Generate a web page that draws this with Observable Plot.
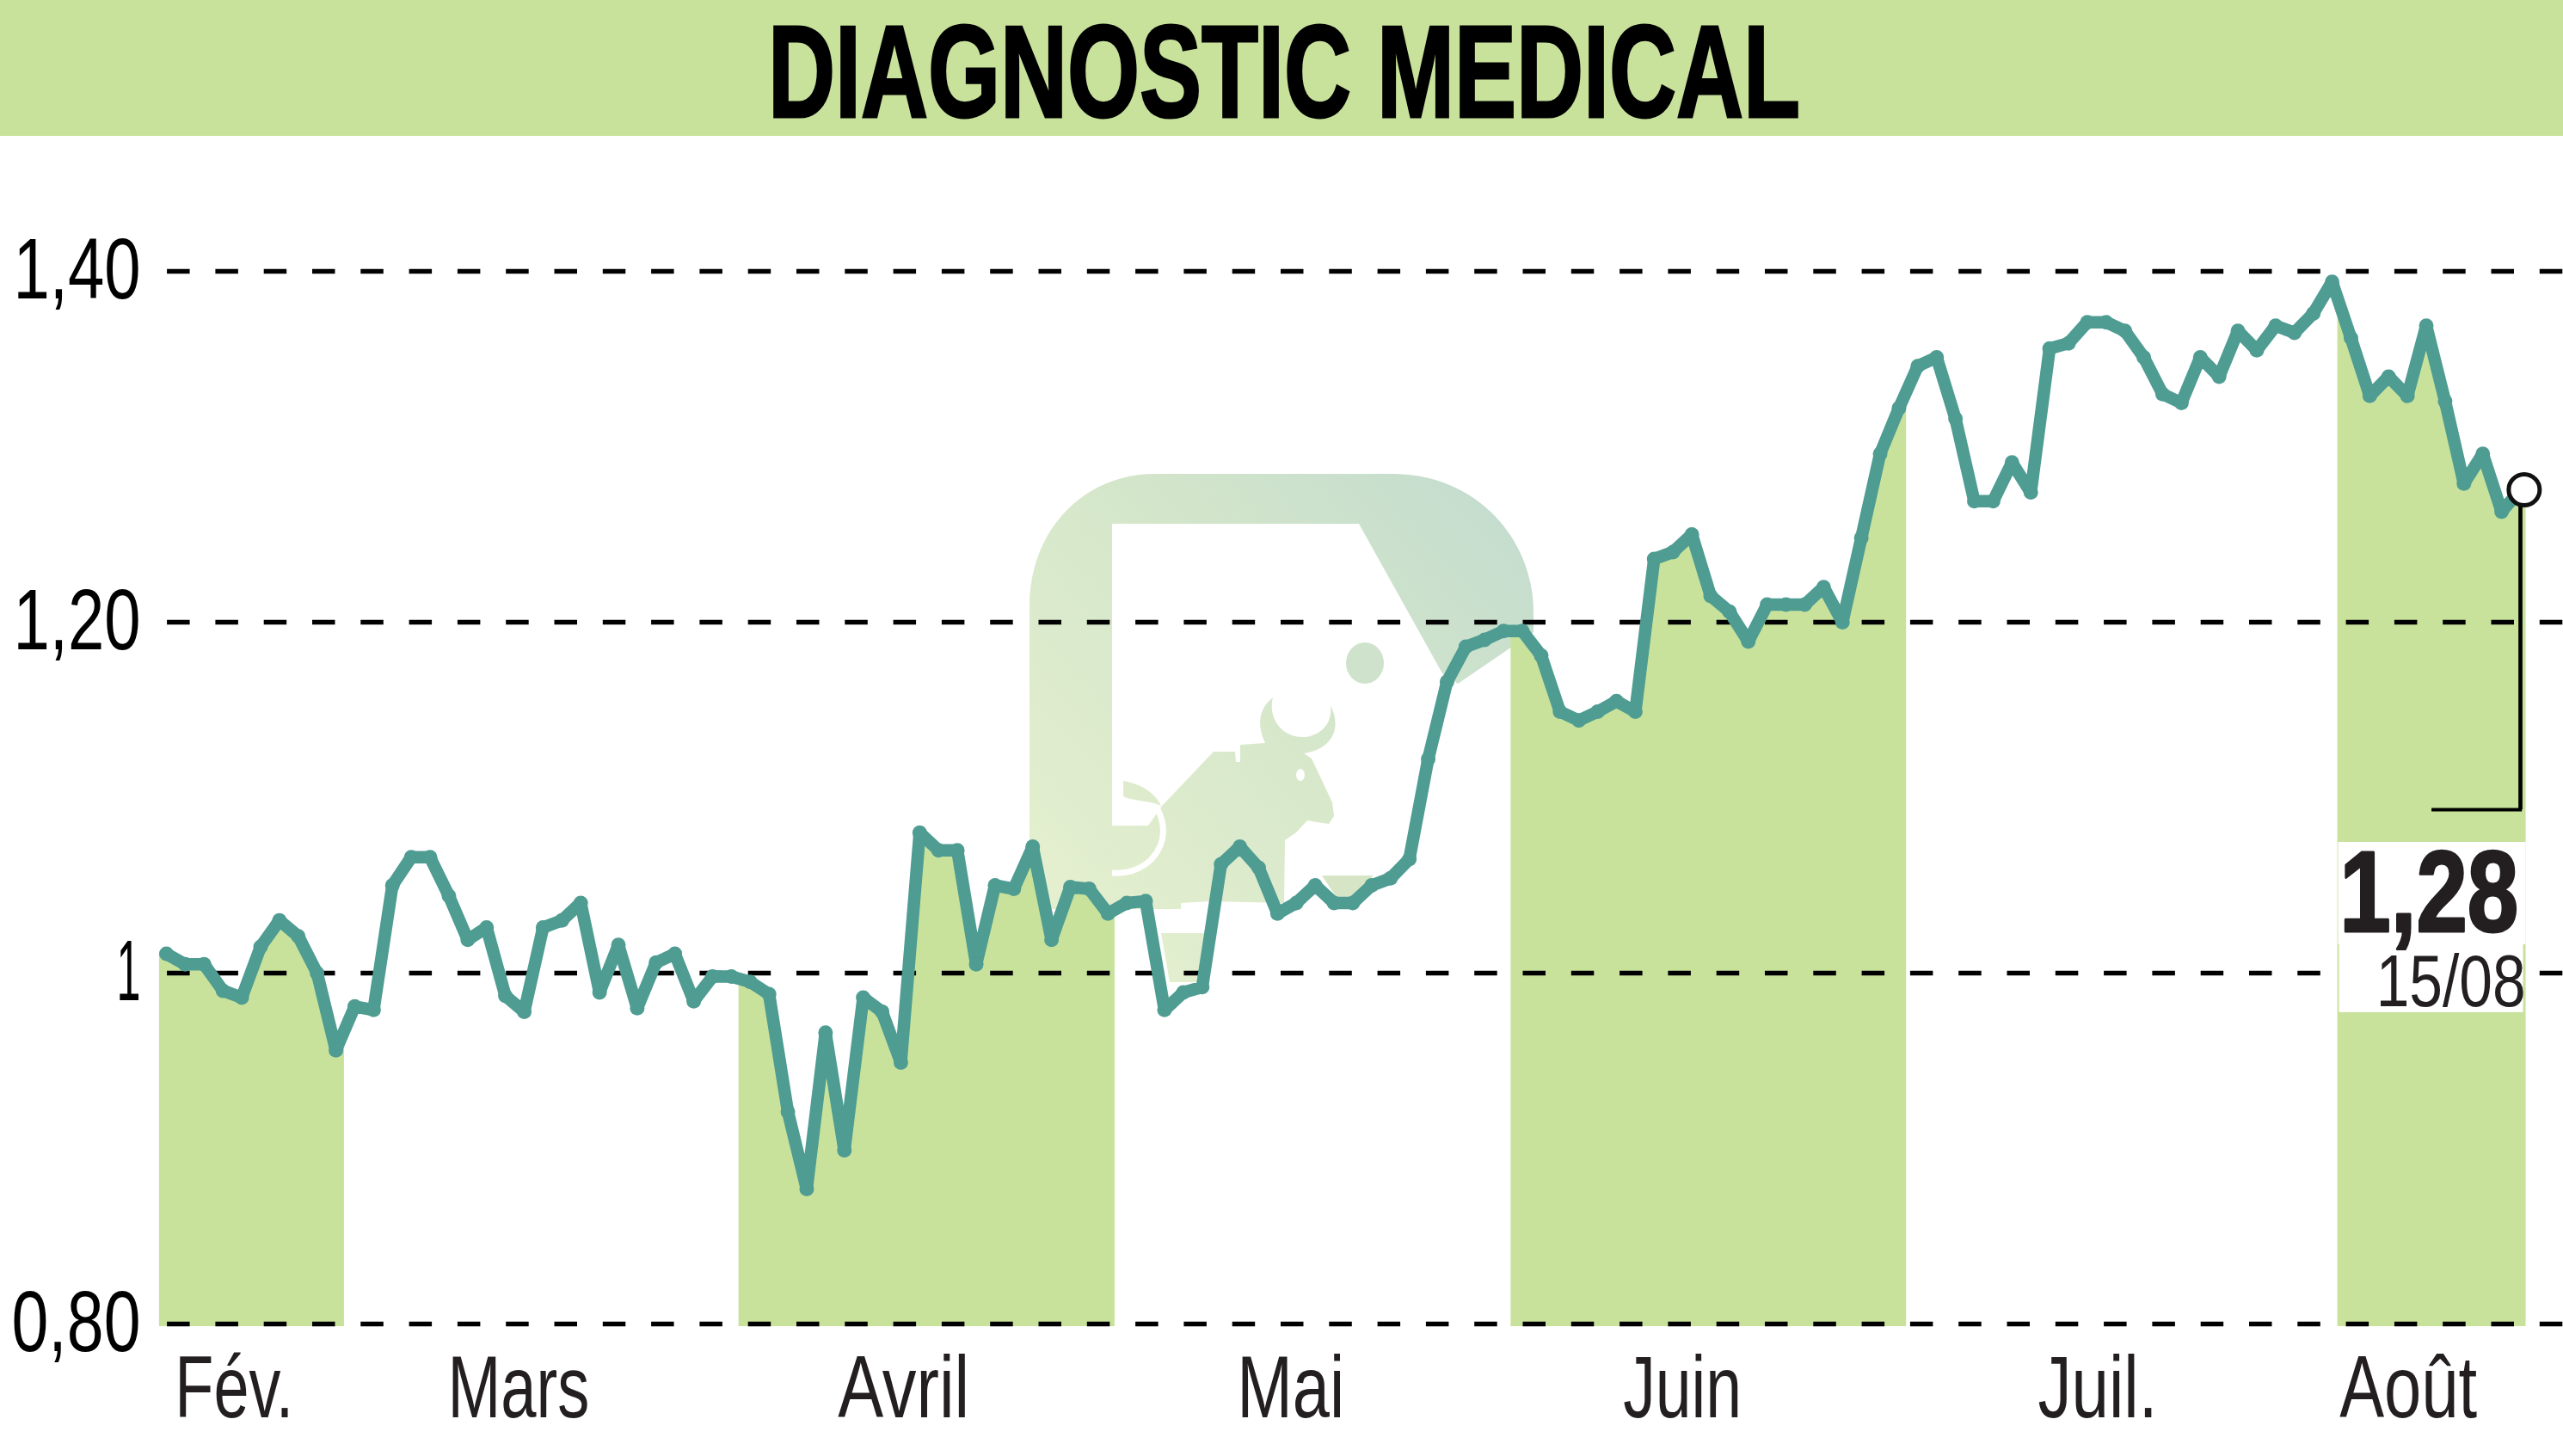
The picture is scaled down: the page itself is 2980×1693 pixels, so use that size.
<!DOCTYPE html>
<html lang="fr">
<head>
<meta charset="utf-8">
<script src="https://cdn.jsdelivr.net/npm/d3@7"></script>
<script src="https://cdn.jsdelivr.net/npm/@observablehq/plot@0.6"></script>
<style>
  html, body { margin: 0; padding: 0; background: #fff; width: 2980px; height: 1693px; overflow: hidden; }
  #head { height: 158px; width: 2980px; background: #c8e29c; }
  #head text { font: 700 152px "Liberation Sans Narrow", "Liberation Sans", sans-serif; fill: #000; stroke: #000; stroke-width: 3px; }
  svg { display: block; }
</style>
</head>
<body>
<div id="head"><svg width="2980" height="158" role="img"><text id="title" x="893" y="136" textLength="1200" lengthAdjust="spacingAndGlyphs"></text></svg></div>
<div id="chart"></div>
<script>
const titleText = "DIAGNOSTIC MEDICAL";
document.getElementById("title").textContent = titleText;
const values = [
  1.011,1.005,1.005,0.990,0.986,1.015,1.030,1.021,1.000,0.956,
  0.981,0.979,1.050,1.066,1.066,1.044,1.019,1.026,0.987,0.978,
  1.026,1.030,1.040,0.989,1.016,0.980,1.006,1.011,0.984,0.998,
  0.998,0.995,0.988,0.921,0.877,0.966,0.899,0.986,0.978,0.949,
  1.080,1.070,1.070,1.005,1.050,1.048,1.072,1.019,1.049,1.048,
  1.034,1.040,1.041,0.979,0.989,0.992,1.062,1.072,1.060,1.034,
  1.040,1.050,1.040,1.040,1.050,1.054,1.065,1.122,1.166,1.186,
  1.190,1.195,1.195,1.181,1.149,1.144,1.149,1.155,1.149,1.236,
  1.240,1.250,1.215,1.206,1.189,1.210,1.210,1.210,1.220,1.200,
  1.248,1.296,1.322,1.346,1.351,1.316,1.269,1.269,1.291,1.274,
  1.356,1.359,1.371,1.371,1.366,1.351,1.330,1.325,1.351,1.340,
  1.366,1.355,1.369,1.365,1.376,1.394,1.362,1.329,1.340,1.329,
  1.369,1.326,1.279,1.296,1.263,1.2755
];
const yTicks = [0.8, 1, 1.2, 1.4];
const yLabels = ["0,80", "1", "1,20", "1,40"];
const monthLabels = ["Fév.", "Mars", "Avril", "Mai", "Juin", "Juil.", "Août"];
const monthTicks = [3.6, 18.7, 39.15, 59.7, 80.5, 102.55, 119.05];
const bandStarts = [-0.37, 30.4, 71.4, 115.3];
const bandEnds = [9.45, 50.37, 92.4, 125.3];
const lastLabel = "1,28";
const lastDate = "15/08";

const series = values.map((v, i) => ({ i, v }));
const at = (t) => {
  const a = Math.max(0, Math.min(values.length - 1, Math.floor(t)));
  const b = Math.min(values.length - 1, a + 1);
  const f = Math.max(0, Math.min(1, t - a));
  return values[a] + (values[b] - values[a]) * f;
};
const bandPoints = bandStarts.flatMap((s, b) => {
  const e = bandEnds[b];
  return [{ b, i: s, v: at(s) }, ...series.filter((d) => d.i > s && d.i < e).map((d) => ({ b, i: d.i, v: d.v })), { b, i: e, v: at(e) }];
});

const font = '"Liberation Sans Narrow", "Liberation Sans", sans-serif';
const wide = '"Liberation Sans", sans-serif';

// background logo (decorative, in page pixels)
function watermark() {
  const ns = "http://www.w3.org/2000/svg";
  const g = document.createElementNS(ns, "g");
  g.setAttribute("transform", "translate(0,-158)");
  g.innerHTML = `
  <defs><linearGradient id="wm" gradientUnits="userSpaceOnUse" x1="1220" y1="1080" x2="1770" y2="570">
    <stop offset="0" stop-color="#e5f0cf"/><stop offset="0.55" stop-color="#d4e6ca"/><stop offset="1" stop-color="#c3dccf"/>
  </linearGradient></defs>
  <path fill="url(#wm)" d="M1197,1057 L1197,705 C1197,615 1262,551 1342,551 L1620,551 C1712,551 1783,622 1783,712 L1783,735 L1695,795 L1677,783 L1580,609 L1293,609 L1293,960 L1335,960 L1351,937 L1411,874 L1436,874 L1437,886 L1442,886 L1442,866 L1471,864 C1462,845 1462,825 1480,811 C1474,835 1490,857 1514,857 C1536,857 1550,840 1547,820 C1562,850 1545,872 1516,876 L1525,882 L1549,933 L1551,949 L1545,958 L1520,954 L1507,968 L1494,977 L1493,1050 L1407,1048 L1373,1050 L1373,1057 Z"/>
  <path fill="url(#wm)" d="M1306,908 C1330,912 1345,925 1350,937 C1335,930 1318,932 1306,926 Z"/>
  <path fill="url(#wm)" d="M1350,1085 L1410,1085 L1400,1142 L1360,1142 Z"/>
  <path fill="#d6e5c6" d="M1537,1018 L1597,1018 L1570,1045 L1555,1045 Z"/>
  <ellipse fill="#cfe3cc" cx="1587" cy="771" rx="22" ry="24"/>
  <ellipse fill="#fff" cx="1512" cy="901" rx="5" ry="7"/>
  <path fill="none" stroke="#fff" stroke-width="7" d="M1346,941 C1358,965 1352,985 1338,1000 C1325,1012 1308,1016 1293,1015"/>`;
  return g;
}

const chart = Plot.plot({
  width: 2980, height: 1535,
  marginLeft: 193, marginRight: 50, marginTop: 157, marginBottom: 154,
  style: { background: "transparent", fontFamily: font, color: "#231f20", overflow: "visible" },
  x: { domain: [0, 125], axis: null },
  y: { domain: [0.8, 1.4], axis: null },
  marks: [
    watermark,
    Plot.areaY(bandPoints, { x: "i", y1: 0.7985, y2: "v", z: "b", fill: "#c8e29c", curve: "linear" }),
    Plot.ruleY(yTicks, { x1: 0.05, x2: 127.3, stroke: "#000", strokeWidth: 5.3, strokeDasharray: "26.5,29.8" }),
    Plot.line(series, { x: "i", y: "v", stroke: "#4e9c92", strokeWidth: 14.5, strokeLinejoin: "round", curve: "linear" }),
    Plot.dot(series.slice(0, -1), { x: "i", y: "v", r: 8.5, fill: "#4e9c92" }),
    Plot.rect([0], { x1: 115.34, x2: 125.3, y1: 1.0745, y2: 1.0162, fill: "#fff" }),
    Plot.rect([0], { x1: 115.39, x2: 125.16, y1: 1.0162, y2: 0.9775, fill: "#fff" }),
    Plot.ruleX([125.0], { y1: 1.2755, y2: 1.0931, stroke: "#000", strokeWidth: 4.7 }),
    Plot.ruleY([1.0931], { x1: 120.3, x2: 125.1, stroke: "#000", strokeWidth: 4 }),
    Plot.dot(series.slice(-1), { x: () => 125.2, y: "v", r: 18, fill: "#fff", stroke: "#111", strokeWidth: 5 }),
    Plot.axisY({ anchor: "left", ticks: yTicks, tickSize: 0, tickPadding: 30, dy: -1, tickFormat: (d) => yLabels[yTicks.indexOf(d)], fontSize: 100, fill: "#000", label: null }),
    Plot.axisX({ anchor: "bottom", ticks: monthTicks, tickSize: 0, tickPadding: 36, tickFormat: (d) => monthLabels[monthTicks.indexOf(d)], fontSize: 102, fill: "#231f20", label: null }),
    Plot.text([lastLabel], { x: 124.9, y: 1.024, text: (d) => d, textAnchor: "end", lineAnchor: "bottom", fontSize: 134, fontWeight: 700, fontFamily: wide, fill: "#231f20", stroke: "#231f20", strokeWidth: 3 }),
    Plot.text([lastDate], { x: 125.28, y: 0.9813, text: (d) => d, textAnchor: "end", lineAnchor: "bottom", fontSize: 86, fontFamily: wide, fill: "#231f20" })
  ]
});
document.getElementById("chart").appendChild(chart);

const widths = { "0,80": 150, "1": 28, "1,20": 148, "1,40": 148, "Fév.": 138, "Mars": 165, "Avril": 153, "Mai": 125, "Juin": 138, "Juil.": 139, "Août": 160, "1,28": 208, "15/08": 174 };
d3.select(chart).selectAll("text").each(function () {
  const w = widths[this.textContent.trim()];
  if (w) { this.setAttribute("textLength", w); this.setAttribute("lengthAdjust", "spacingAndGlyphs"); }
});
</script>
</body>
</html>
